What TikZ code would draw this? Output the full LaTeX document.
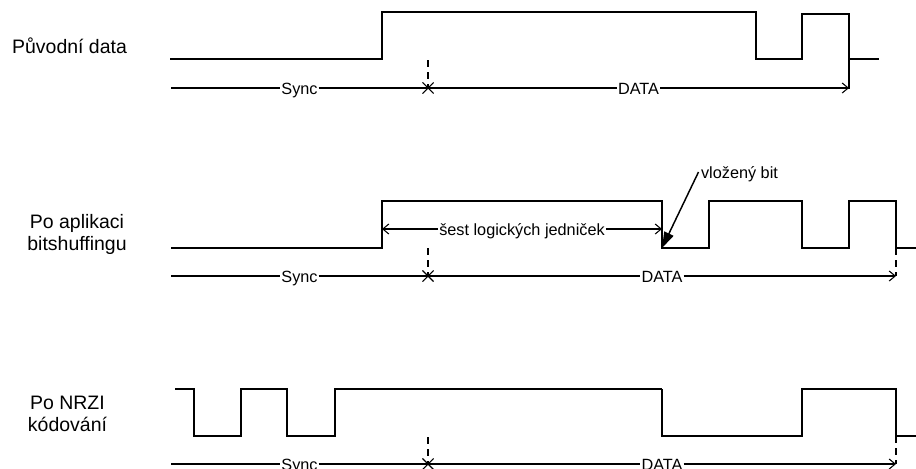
\documentclass[tikz,border=0pt]{standalone}
\usepackage{fontspec}
\setmainfont{Liberation Sans}
\usetikzlibrary{arrows.meta,shapes.misc}
\begin{document}
\begin{tikzpicture}[x=0.75pt,y=-0.75pt,
  wave/.style={line width=1.1pt,line join=miter,line cap=rect},
  thinwave/.style={line width=0.9pt,line join=miter},
  boldwave/.style={line width=2pt},
  axis/.style={line width=0.8pt},
  barb/.style={-{Straight Barb[length=4.5pt,width=7.5pt]}},
  tickline/.style={line width=0.8pt,dash pattern=on 5.25pt off 3.75pt},
  rowlabel/.style={font=\fontsize{14.6}{17}\selectfont,anchor=base,inner sep=0pt},
  axlabel/.style={font=\fontsize{12.2}{14}\selectfont,anchor=base,inner xsep=0.6pt,inner ysep=0pt},
  marker/.style={cross out,draw,line width=0.8pt,minimum size=7.5pt,inner sep=0pt}]
\useasboundingbox (0,0) rectangle (916,468);

% row titles
\node[rowlabel] (lab1)  at (69.5,53)    {Původní data};
\node[rowlabel] (lab2a) at (77,228.3)   {Po aplikaci};
\node[rowlabel] (lab2b) at (77,250.7)   {bitshuffingu};
\node[rowlabel] (lab3a) at (67.5,409.3) {Po NRZI};
\node[rowlabel] (lab3b) at (67.5,431.7) {kódování};

% time axes: Sync part, boundary mark, DATA part
\foreach \r/\ya/\xe/\yt in {1/88/849/60, 2/276/896/248, 3/464/896/437} {
  \coordinate (s\r) at (171,\ya);
  \coordinate (e\r) at (\xe,\ya);
  \coordinate (t\r) at (428,\yt);
  \node[marker] (m\r) at (428,\ya) {};
  \node[axlabel] (sync\r) at (299.5,\ya+6) {Sync};
  \node[axlabel] (data\r) at ({(428+\xe)/2},\ya+6) {DATA};
  \draw[axis] (s\r) -- (s\r -| sync\r.west);
  \draw[axis] (s\r -| sync\r.east) -- (m\r.center) -- (m\r.center -| data\r.west);
  \draw[axis,barb] (m\r.center -| data\r.east) -- (e\r);
  \draw[tickline] (t\r) -- (m\r.center);
}

% original data
\draw[wave] (171,59) -- (382,59) -- (382,12) -- (756,12) -- (756,59) -- (802,59)
  -- (802,14) -- (849,14) -- (849,59) -- (878,59);
\draw[wave] (849,59) -- (e1);

% after bit stuffing
\draw[wave] (172,248) -- (382,248) -- (382,201) -- (662,201) -- (662,248) -- (709,248)
  -- (709,201) -- (802,201) -- (802,248) -- (849,248) -- (849,201) -- (896,201)
  -- (896,248) -- (916,248);
\draw[tickline] (896,248) -- (e2);

\coordinate (ja) at (382,229);
\coordinate (jb) at (662,229);
\node[axlabel] (ones) at (522,235) {šest logických jedniček};
\draw[axis,barb] (ones.west |- ja) -- (ja);
\draw[axis,barb] (ones.east |- jb) -- (jb);

\node[axlabel,anchor=base west] (vb) at (700,178) {vložený bit};
\coordinate (vbtail) at (698.5,172);
\coordinate (vbtip) at (662,248);
\draw[line width=1.1pt,-{Triangle[length=12pt,width=7.5pt]}] (vbtail) -- (vbtip);

% after NRZI coding
\draw[thinwave] (175,389) -- (194,389) -- (194,436) -- (241,436) -- (241,389) -- (287,389)
  -- (287,436) -- (335,436) -- (335,389) -- (382,389);
\draw[boldwave] (382,389) -- (662,389);
\draw[thinwave] (662,389) -- (662,436) -- (802,436) -- (802,389) -- (896,389)
  -- (896,436) -- (916,436);
\draw[tickline] (896,436) -- (e3);
\end{tikzpicture}
\end{document}
